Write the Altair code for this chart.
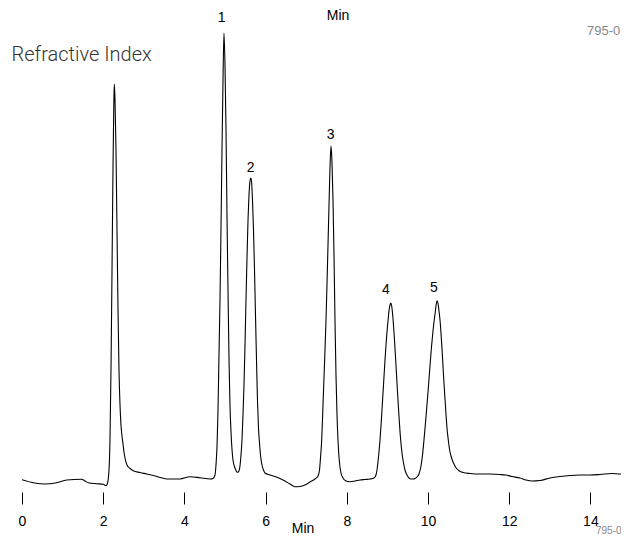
import altair as alt
import pandas as pd

# Chromatogram trace: time (min) and detector signal (arbitrary units)
times = [0.000, 0.278, 0.566, 0.855, 1.101, 1.470, 1.552, 1.633, 1.840, 2.002,
         2.069, 2.101, 2.143, 2.167, 2.192, 2.217, 2.241, 2.261, 2.273, 2.291,
         2.315, 2.340, 2.365, 2.389, 2.414, 2.438, 2.463, 2.488, 2.512, 2.537,
         2.586, 2.660, 2.741, 2.906, 3.071, 3.325, 3.564, 3.892, 4.138, 4.384,
         4.631, 4.704, 4.754, 4.778, 4.803, 4.828, 4.852, 4.877, 4.901, 4.926,
         4.951, 4.975, 5.000, 5.025, 5.049, 5.074, 5.099, 5.123, 5.148, 5.172,
         5.197, 5.246, 5.313, 5.345, 5.369, 5.394, 5.419, 5.443, 5.468, 5.493,
         5.517, 5.542, 5.567, 5.591, 5.616, 5.633, 5.653, 5.677, 5.702, 5.727,
         5.751, 5.776, 5.800, 5.825, 5.850, 5.874, 5.911, 5.948, 5.985, 6.108,
         6.232, 6.355, 6.478, 6.601, 6.724, 6.847, 6.970, 7.094, 7.217, 7.291,
         7.328, 7.352, 7.382, 7.414, 7.438, 7.463, 7.488, 7.512, 7.537, 7.562,
         7.586, 7.611, 7.635, 7.660, 7.685, 7.709, 7.734, 7.759, 7.783, 7.808,
         7.833, 7.857, 7.906, 7.980, 8.079, 8.202, 8.325, 8.448, 8.571, 8.670,
         8.719, 8.744, 8.768, 8.793, 8.818, 8.842, 8.867, 8.892, 8.916, 8.941,
         8.966, 8.990, 9.015, 9.039, 9.064, 9.081, 9.101, 9.126, 9.150, 9.175,
         9.200, 9.224, 9.249, 9.273, 9.298, 9.327, 9.360, 9.397, 9.433, 9.483,
         9.532, 9.581, 9.638, 9.680, 9.729, 9.778, 9.828, 9.865, 9.901, 9.938,
         9.975, 10.012, 10.049, 10.086, 10.123, 10.160, 10.185, 10.204, 10.222, 10.246,
         10.271, 10.296, 10.320, 10.345, 10.369, 10.394, 10.419, 10.443, 10.468, 10.500,
         10.529, 10.567, 10.616, 10.665, 10.714, 10.764, 10.862, 11.034, 11.281, 11.527,
         11.773, 11.914, 12.069, 12.266, 12.414, 12.562, 12.759, 13.005, 13.251, 13.498,
         13.744, 13.990, 14.236, 14.532, 14.729, 14.951]
signal = [10.3, 7.3, 6.0, 7.3, 10.0, 10.7, 9.0, 7.3, 6.3, 5.7,
          4.3, 6.0, 20, 50, 120, 220, 320, 385, 406, 390,
          340, 260, 180, 120, 85, 65, 54, 46, 38, 32,
          25, 21.5, 19.3, 17.5, 16, 13.5, 11, 11, 13.3, 12.3,
          11, 11.5, 15, 25, 43, 80, 135, 190, 260, 340,
          410, 457, 425, 360, 275, 200, 130, 85, 58, 41,
          30, 22, 17.7, 19, 24, 35, 50, 75, 105, 145,
          190, 232, 270, 295, 309, 312, 309, 290, 260, 220,
          175, 130, 90, 62, 47, 35, 25, 20, 17, 15,
          13.5, 11.5, 9, 6, 3.3, 3.5, 5, 8, 11, 14,
          20, 32, 50, 85, 112, 140, 170, 205, 245, 285,
          322, 344, 328, 290, 235, 170, 115, 75, 50, 33,
          23, 17, 12, 9, 8.3, 9, 10, 10.5, 11, 12,
          15, 20, 28, 38, 50, 64, 80, 97, 113, 130,
          145, 158, 169, 179, 185, 187, 185, 177, 165, 150,
          133, 116, 98, 82, 66, 50, 37, 27, 20, 15,
          12, 11, 11, 11.5, 13, 16, 24, 35, 50, 67,
          85, 104, 124, 143, 159, 172, 180, 186, 189.3, 187,
          179, 170, 157, 141, 124, 107, 91, 76, 62, 50,
          41, 34, 28, 24, 21, 19.3, 17.5, 16.5, 16, 16,
          15.5, 15, 13.5, 12, 10, 9, 9.5, 12, 13.5, 14.5,
          15, 15, 15.5, 16.5, 16, 16]

# Peak labels
peak_names = ["1", "2", "3", "4", "5"]
label_times = [4.919, 5.633, 7.603, 8.966, 10.148]
label_signal = [472, 322, 355, 200, 202]

tick_values = [0, 2, 4, 6, 8, 10, 12, 14]

trace = pd.DataFrame({"t": times, "s": signal})
labels_df = pd.DataFrame({"t": label_times, "s": label_signal, "name": peak_names})

LBL = "Liberation Sans, Arial, sans-serif"

x_scale = alt.Scale(domain=[0, 14.754], nice=False, zero=False)
y_scale = alt.Scale(domain=[0, 480], nice=False, zero=False)

line = alt.Chart(trace).mark_line(
    color="black", strokeWidth=1.1, interpolate="monotone", clip=True
).encode(
    x=alt.X("t:Q", scale=x_scale,
            axis=alt.Axis(values=tick_values, title=None, domain=False, grid=False,
                          tickSize=12, tickColor="black", tickWidth=1, offset=2,
                          labelFont=LBL, labelFontSize=14, labelPadding=10,
                          labelColor="black", format="d", labelFlush=False)),
    y=alt.Y("s:Q", scale=y_scale, axis=None),
)

peak_labels = alt.Chart(labels_df).mark_text(
    font=LBL, fontSize=14, baseline="middle", align="center", color="black"
).encode(
    x=alt.X("t:Q", scale=x_scale),
    y=alt.Y("s:Q", scale=y_scale),
    text="name:N",
)

one = pd.DataFrame({"a": [0]})

def note(txt, x, y, font, size, color, align="center", baseline="alphabetic", weight="normal"):
    return alt.Chart(one).mark_text(
        font=font, fontSize=size, color=color, align=align, baseline=baseline,
        fontWeight=weight
    ).encode(x=alt.value(x), y=alt.value(y), text=alt.value(txt))

annots = [
    note("Refractive Index", -10.5, 50.5, "Roboto, Liberation Sans, sans-serif", 20, "#333333",
         align="left", weight=300),
    note("Min", 316, 10, LBL, 14, "black"),
    note("Min", 281, 522.5, LBL, 14, "black"),
    note("795-0", 565, 25, "Liberation Sans, sans-serif", 13, "#888888", align="left"),
    note("795-0", 574, 523.5, "Liberation Sans, sans-serif", 10, "#888888", align="left"),
]

chart = alt.layer(line, peak_labels, *annots).properties(
    width=599, height=480,
    autosize=alt.AutoSizeParams(type="none"),
    padding={"left": 14, "top": 2, "right": 0, "bottom": 46},
).configure_view(stroke=None)

chart.save("out.html", embed_options={"renderer": "svg", "actions": False})
